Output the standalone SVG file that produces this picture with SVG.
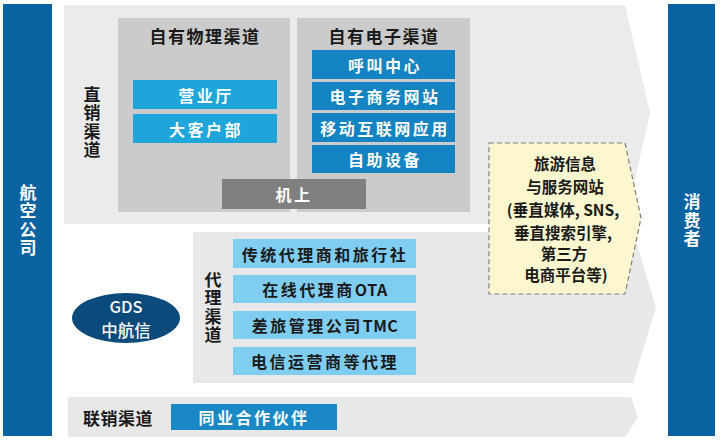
<svg xmlns="http://www.w3.org/2000/svg" width="720" height="446" viewBox="0 0 720 446">
<style>
text{font-family:"Noto Sans CJK SC","Noto Sans",sans-serif;dominant-baseline:central;text-anchor:middle}
.bar{fill:#0b62a0}
.wt{fill:#ffffff;font-size:16px;font-weight:bold;letter-spacing:2.5px}
.bt{fill:#1a1a1a;font-size:16px;font-weight:bold;letter-spacing:2.5px}
.lat{letter-spacing:0.5px}
.ttl{fill:#1a1a1a;font-size:17px;font-weight:bold;letter-spacing:1.5px}
.vt{fill:#1a1a1a;font-size:17px;font-weight:bold}
.vw{fill:#ffffff;font-size:17px;font-weight:bold}
.gw{fill:#ffffff;font-size:16.5px;font-weight:500}
.vert{writing-mode:vertical-rl;text-orientation:upright;letter-spacing:1.5px}
.chan{fill:#cbcbcb}
.phy{fill:#1ea5da}
.ele{fill:#1383c1}
.agt{fill:#7fcef2}
.note{fill:#1a1a1a;font-size:15.5px;font-weight:bold}
</style>
<rect width="720" height="446" fill="#ffffff"/>
<g id="airline">
<rect class="bar" x="3" y="4" width="49" height="432"/>
<text class="vw vert" x="28" y="221">航空公司</text>
</g>
<g id="consumer">
<rect class="bar" x="668" y="4" width="47" height="432"/>
<text class="vw vert" x="692" y="221">消费者</text>
</g>
<g id="direct">
<polygon points="64,5 625,5 650,113 625,224 64,224" fill="#ebebeb"/>
<text class="vt vert" x="92" y="123">直销渠道</text>
</g>
<g id="physical">
<rect class="chan" x="118" y="18" width="172" height="194"/>
<text class="ttl" x="205" y="35">自有物理渠道</text>
<rect class="phy" x="133" y="80" width="144" height="29"/>
<text class="wt" x="206" y="94.5">营业厅</text>
<rect class="phy" x="133" y="114" width="144" height="29"/>
<text class="wt" x="206" y="128.5">大客户部</text>
</g>
<g id="electronic">
<rect class="chan" x="297" y="18" width="173" height="194"/>
<text class="ttl" x="384" y="35">自有电子渠道</text>
<rect class="ele" x="312" y="50" width="143" height="29"/>
<text class="wt" x="385" y="64.5">呼叫中心</text>
<rect class="ele" x="312" y="82" width="143" height="28"/>
<text class="wt" x="385" y="96">电子商务网站</text>
<rect class="ele" x="312" y="113" width="143" height="29"/>
<text class="wt" x="385" y="127.5">移动互联网应用</text>
<rect class="ele" x="312" y="145" width="143" height="28"/>
<text class="wt" x="385" y="159">自助设备</text>
</g>
<g id="onboard">
<rect x="222" y="179" width="144" height="30" fill="#808080"/>
<text class="wt" x="294" y="194">机上</text>
</g>
<g id="agency">
<polygon points="193,232 633,232 656,307 633,383 193,383" fill="#e8e8e8"/>
<text class="vt vert" x="213" y="308">代理渠道</text>
<rect class="agt" x="233" y="239" width="183" height="29"/>
<text class="bt" x="325" y="253.5">传统代理商和旅行社</text>
<rect class="agt" x="233" y="275" width="183" height="28"/>
<text class="bt" x="325" y="289">在线代理商<tspan class="lat">OTA</tspan></text>
<rect class="agt" x="233" y="311" width="183" height="28"/>
<text class="bt" x="325" y="325">差旅管理公司<tspan class="lat">TMC</tspan></text>
<rect class="agt" x="233" y="347" width="183" height="28"/>
<text class="bt" x="325" y="361">电信运营商等代理</text>
</g>
<g id="gds">
<ellipse cx="126" cy="318" rx="54" ry="25" fill="#0c4a7c"/>
<text class="gw" x="126" y="306">GDS</text>
<text class="gw" x="126" y="330" font-weight="bold">中航信</text>
</g>
<g id="travel-sites">
<polygon points="489,143 625,143 641,218 625,294 489,294" fill="#fcf7cf" stroke="#808080" stroke-width="1.2" stroke-dasharray="5,3"/>
<text class="note" x="565" y="163">旅游信息</text>
<text class="note" x="565" y="186">与服务网站</text>
<text class="note" x="563" y="209">(垂直媒体, SNS,</text>
<text class="note" x="563" y="232">垂直搜索引擎,</text>
<text class="note" x="564" y="253">第三方</text>
<text class="note" x="566" y="274">电商平台等)</text>
</g>
<g id="alliance">
<polygon points="68,397 631,397 638,417 625,437 68,437" fill="#e8e8e8"/>
<text class="ttl" x="118" y="417" style="letter-spacing:0.5px">联销渠道</text>
<rect x="171" y="404" width="166" height="26" fill="#1a88c4"/>
<text class="wt" x="254" y="417">同业合作伙伴</text>
</g>
<g id="connectors"></g>
</svg>
